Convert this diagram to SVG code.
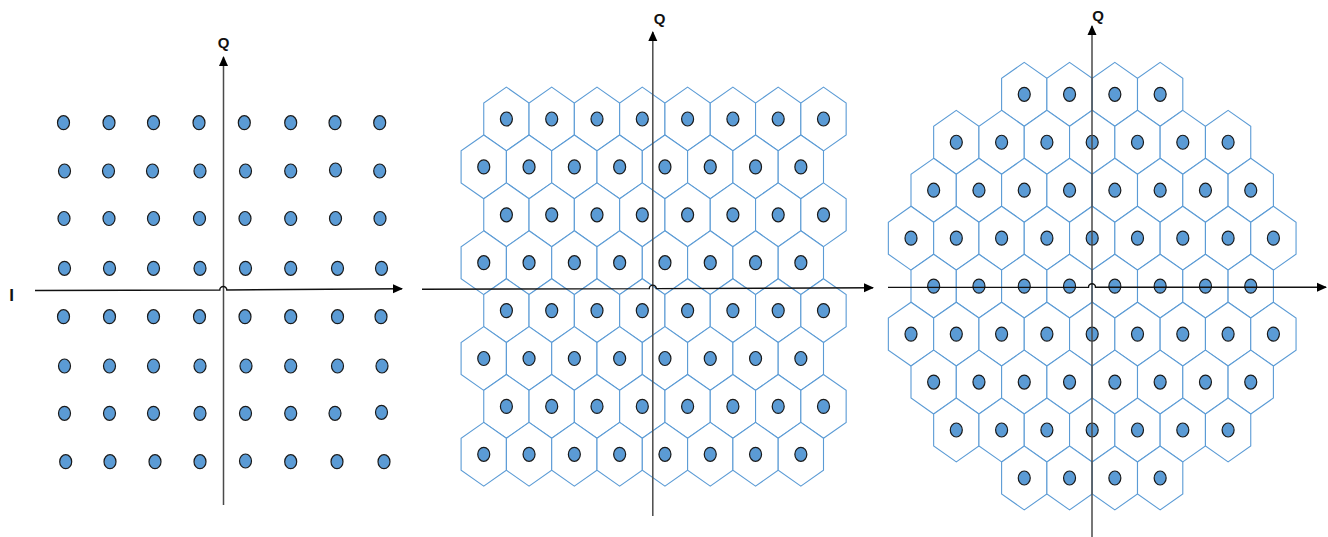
<svg xmlns="http://www.w3.org/2000/svg" xmlns:xlink="http://www.w3.org/1999/xlink" width="1328" height="537" viewBox="0 0 1328 537">
<style>
.hex{fill:#fff;stroke:#5B9BD5;stroke-width:1.1}
.dot{fill:#5B9BD5;stroke:#1a1a1a;stroke-width:1.2}
.qax{fill:none;stroke:#4a4a4a;stroke-width:1.5}
.iax{fill:none;stroke:#111;stroke-width:1.4}
.lbl{font-family:"Liberation Sans",Arial,sans-serif;font-weight:bold;font-size:15px;fill:#111;text-anchor:middle}
</style>
<defs>
<polygon id="hx" class="hex" points="0,-31.9 22.65,-16 22.65,16 0,31.9 -22.65,16 -22.65,-16"/>
<ellipse id="dt" class="dot" rx="6" ry="7"/>
<g id="cell"><use href="#hx"/><use href="#dt"/></g>
<marker id="arr" markerWidth="10" markerHeight="10" refX="9" refY="5" orient="auto" markerUnits="userSpaceOnUse">
<path d="M0,0.5 L10,5 L0,9.5 Z" fill="#000"/>
</marker>
</defs>
<rect width="1328" height="537" fill="#fff"/>

<g id="panel-square">
<g id="sq-row1"><use href="#dt" x="63.5" y="122.7"/><use href="#dt" x="109" y="122.7"/><use href="#dt" x="153.5" y="122.7"/><use href="#dt" x="199" y="122.7"/><use href="#dt" x="244.3" y="122.7"/><use href="#dt" x="290.7" y="122.7"/><use href="#dt" x="335" y="122.7"/><use href="#dt" x="379.7" y="122.7"/></g>
<g id="sq-row2"><use href="#dt" x="64.5" y="171"/><use href="#dt" x="108.5" y="171"/><use href="#dt" x="152.5" y="171"/><use href="#dt" x="200" y="171"/><use href="#dt" x="245.5" y="171"/><use href="#dt" x="290.7" y="171"/><use href="#dt" x="335.5" y="170"/><use href="#dt" x="379.7" y="171"/></g>
<g id="sq-row3"><use href="#dt" x="64" y="218.5"/><use href="#dt" x="109" y="218.5"/><use href="#dt" x="153.5" y="218.5"/><use href="#dt" x="199.5" y="218.5"/><use href="#dt" x="245" y="218.5"/><use href="#dt" x="290.7" y="218.5"/><use href="#dt" x="335.5" y="218.5"/><use href="#dt" x="380" y="218.5"/></g>
<g id="sq-row4"><use href="#dt" x="64.5" y="268.3"/><use href="#dt" x="109.5" y="268.3"/><use href="#dt" x="153.5" y="268.3"/><use href="#dt" x="200" y="268.3"/><use href="#dt" x="245.5" y="268.3"/><use href="#dt" x="290.7" y="268.3"/><use href="#dt" x="337.5" y="268.3"/><use href="#dt" x="381.5" y="268.3"/></g>
<g id="sq-row5"><use href="#dt" x="63.5" y="316.7"/><use href="#dt" x="109.5" y="316.7"/><use href="#dt" x="153.5" y="316.7"/><use href="#dt" x="199.5" y="316.7"/><use href="#dt" x="245" y="316.7"/><use href="#dt" x="290.7" y="316.7"/><use href="#dt" x="337.5" y="316.7"/><use href="#dt" x="381" y="316.7"/></g>
<g id="sq-row6"><use href="#dt" x="64.5" y="366"/><use href="#dt" x="109.5" y="366"/><use href="#dt" x="153.5" y="366"/><use href="#dt" x="200" y="366"/><use href="#dt" x="246" y="366"/><use href="#dt" x="290.7" y="366"/><use href="#dt" x="337.5" y="366"/><use href="#dt" x="382" y="366"/></g>
<g id="sq-row7"><use href="#dt" x="64.5" y="413.3"/><use href="#dt" x="109.5" y="413.3"/><use href="#dt" x="153.5" y="413.3"/><use href="#dt" x="200" y="413.3"/><use href="#dt" x="245.5" y="413.3"/><use href="#dt" x="290.7" y="413.3"/><use href="#dt" x="335" y="413.3"/><use href="#dt" x="381.5" y="412.3"/></g>
<g id="sq-row8"><use href="#dt" x="65.7" y="461.7"/><use href="#dt" x="110" y="461.7"/><use href="#dt" x="155" y="461.7"/><use href="#dt" x="200" y="461.7"/><use href="#dt" x="245.5" y="461"/><use href="#dt" x="290.7" y="461.7"/><use href="#dt" x="337" y="461.7"/><use href="#dt" x="384" y="461.7"/></g>
</g>

<g id="panel-hex-square">
<g id="hs-row1"><use href="#cell" x="506.4" y="119"/><use href="#cell" x="551.7" y="119"/><use href="#cell" x="597" y="119"/><use href="#cell" x="642.3" y="119"/><use href="#cell" x="687.6" y="119"/><use href="#cell" x="732.9" y="119"/><use href="#cell" x="778.2" y="119"/><use href="#cell" x="823.5" y="119"/></g>
<g id="hs-row2"><use href="#cell" x="483.75" y="166.9"/><use href="#cell" x="529.05" y="166.9"/><use href="#cell" x="574.35" y="166.9"/><use href="#cell" x="619.65" y="166.9"/><use href="#cell" x="664.95" y="166.9"/><use href="#cell" x="710.25" y="166.9"/><use href="#cell" x="755.55" y="166.9"/><use href="#cell" x="800.85" y="166.9"/></g>
<g id="hs-row3"><use href="#cell" x="506.4" y="214.8"/><use href="#cell" x="551.7" y="214.8"/><use href="#cell" x="597" y="214.8"/><use href="#cell" x="642.3" y="214.8"/><use href="#cell" x="687.6" y="214.8"/><use href="#cell" x="732.9" y="214.8"/><use href="#cell" x="778.2" y="214.8"/><use href="#cell" x="823.5" y="214.8"/></g>
<g id="hs-row4"><use href="#cell" x="483.75" y="262.7"/><use href="#cell" x="529.05" y="262.7"/><use href="#cell" x="574.35" y="262.7"/><use href="#cell" x="619.65" y="262.7"/><use href="#cell" x="664.95" y="262.7"/><use href="#cell" x="710.25" y="262.7"/><use href="#cell" x="755.55" y="262.7"/><use href="#cell" x="800.85" y="262.7"/></g>
<g id="hs-row5"><use href="#cell" x="506.4" y="310.6"/><use href="#cell" x="551.7" y="310.6"/><use href="#cell" x="597" y="310.6"/><use href="#cell" x="642.3" y="310.6"/><use href="#cell" x="687.6" y="310.6"/><use href="#cell" x="732.9" y="310.6"/><use href="#cell" x="778.2" y="310.6"/><use href="#cell" x="823.5" y="310.6"/></g>
<g id="hs-row6"><use href="#cell" x="483.75" y="358.5"/><use href="#cell" x="529.05" y="358.5"/><use href="#cell" x="574.35" y="358.5"/><use href="#cell" x="619.65" y="358.5"/><use href="#cell" x="664.95" y="358.5"/><use href="#cell" x="710.25" y="358.5"/><use href="#cell" x="755.55" y="358.5"/><use href="#cell" x="800.85" y="358.5"/></g>
<g id="hs-row7"><use href="#cell" x="506.4" y="406.4"/><use href="#cell" x="551.7" y="406.4"/><use href="#cell" x="597" y="406.4"/><use href="#cell" x="642.3" y="406.4"/><use href="#cell" x="687.6" y="406.4"/><use href="#cell" x="732.9" y="406.4"/><use href="#cell" x="778.2" y="406.4"/><use href="#cell" x="823.5" y="406.4"/></g>
<g id="hs-row8"><use href="#cell" x="483.75" y="454.3"/><use href="#cell" x="529.05" y="454.3"/><use href="#cell" x="574.35" y="454.3"/><use href="#cell" x="619.65" y="454.3"/><use href="#cell" x="664.95" y="454.3"/><use href="#cell" x="710.25" y="454.3"/><use href="#cell" x="755.55" y="454.3"/><use href="#cell" x="800.85" y="454.3"/></g>
</g>

<g id="panel-hex-circular">
<g id="hc-row1"><use href="#cell" x="1024.25" y="94.3"/><use href="#cell" x="1069.55" y="94.3"/><use href="#cell" x="1114.85" y="94.3"/><use href="#cell" x="1160.15" y="94.3"/></g>
<g id="hc-row2"><use href="#cell" x="956.3" y="142.26"/><use href="#cell" x="1001.6" y="142.26"/><use href="#cell" x="1046.9" y="142.26"/><use href="#cell" x="1092.2" y="142.26"/><use href="#cell" x="1137.5" y="142.26"/><use href="#cell" x="1182.8" y="142.26"/><use href="#cell" x="1228.1" y="142.26"/></g>
<g id="hc-row3"><use href="#cell" x="933.65" y="190.22"/><use href="#cell" x="978.95" y="190.22"/><use href="#cell" x="1024.25" y="190.22"/><use href="#cell" x="1069.55" y="190.22"/><use href="#cell" x="1114.85" y="190.22"/><use href="#cell" x="1160.15" y="190.22"/><use href="#cell" x="1205.45" y="190.22"/><use href="#cell" x="1250.75" y="190.22"/></g>
<g id="hc-row4"><use href="#cell" x="911" y="238.18"/><use href="#cell" x="956.3" y="238.18"/><use href="#cell" x="1001.6" y="238.18"/><use href="#cell" x="1046.9" y="238.18"/><use href="#cell" x="1092.2" y="238.18"/><use href="#cell" x="1137.5" y="238.18"/><use href="#cell" x="1182.8" y="238.18"/><use href="#cell" x="1228.1" y="238.18"/><use href="#cell" x="1273.4" y="238.18"/></g>
<g id="hc-row5"><use href="#cell" x="933.65" y="286.14"/><use href="#cell" x="978.95" y="286.14"/><use href="#cell" x="1024.25" y="286.14"/><use href="#cell" x="1069.55" y="286.14"/><use href="#cell" x="1114.85" y="286.14"/><use href="#cell" x="1160.15" y="286.14"/><use href="#cell" x="1205.45" y="286.14"/><use href="#cell" x="1250.75" y="286.14"/></g>
<g id="hc-row6"><use href="#cell" x="911" y="334.1"/><use href="#cell" x="956.3" y="334.1"/><use href="#cell" x="1001.6" y="334.1"/><use href="#cell" x="1046.9" y="334.1"/><use href="#cell" x="1092.2" y="334.1"/><use href="#cell" x="1137.5" y="334.1"/><use href="#cell" x="1182.8" y="334.1"/><use href="#cell" x="1228.1" y="334.1"/><use href="#cell" x="1273.4" y="334.1"/></g>
<g id="hc-row7"><use href="#cell" x="933.65" y="382.06"/><use href="#cell" x="978.95" y="382.06"/><use href="#cell" x="1024.25" y="382.06"/><use href="#cell" x="1069.55" y="382.06"/><use href="#cell" x="1114.85" y="382.06"/><use href="#cell" x="1160.15" y="382.06"/><use href="#cell" x="1205.45" y="382.06"/><use href="#cell" x="1250.75" y="382.06"/></g>
<g id="hc-row8"><use href="#cell" x="956.3" y="430.02"/><use href="#cell" x="1001.6" y="430.02"/><use href="#cell" x="1046.9" y="430.02"/><use href="#cell" x="1092.2" y="430.02"/><use href="#cell" x="1137.5" y="430.02"/><use href="#cell" x="1182.8" y="430.02"/><use href="#cell" x="1228.1" y="430.02"/></g>
<g id="hc-row9"><use href="#cell" x="1024.25" y="477.98"/><use href="#cell" x="1069.55" y="477.98"/><use href="#cell" x="1114.85" y="477.98"/><use href="#cell" x="1160.15" y="477.98"/></g>
</g>

<g id="connectors">
<path class="qax" d="M223.5,505 L223.5,57" marker-end="url(#arr)"/>
<path class="iax" d="M35,290.5 L219.8,290 A3.5,3.5 0 0 1 226.8,290 L402,288.7" marker-end="url(#arr)"/>
<path class="qax" d="M652.8,516 L652.8,32" marker-end="url(#arr)"/>
<path class="iax" d="M422,289.2 L649.3,288.6 A3.5,3.5 0 0 1 656.3,288.6 L873,287.8" marker-end="url(#arr)"/>
<path class="qax" d="M1092,537 L1092,26" marker-end="url(#arr)"/>
<path class="iax" d="M888,287.4 L1088.5,287.3 A3.5,3.5 0 0 1 1095.5,287.3 L1326,287.2" marker-end="url(#arr)"/>
</g>

<g id="labels">
<text class="lbl" x="223.5" y="48">Q</text>
<text class="lbl" x="11.5" y="301" style="font-size:17px">I</text>
<text class="lbl" x="659.5" y="24">Q</text>
<text class="lbl" x="1098" y="21">Q</text>
</g>
</svg>
